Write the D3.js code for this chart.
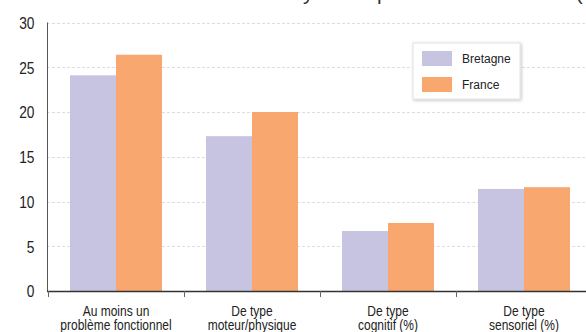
<!DOCTYPE html>
<html>
<head>
<meta charset="utf-8">
<script src="https://cdn.jsdelivr.net/npm/d3@7"></script>
<style>
  html, body { margin: 0; padding: 0; background: #fff; }
  svg { display: block; font-family: "Liberation Sans", Arial, sans-serif; }
</style>
</head>
<body>
<svg id="chart" width="586" height="332"></svg>
<script>
// Categories (each label split into its display lines)
const categories = ["Au moins un problème fonctionnel", "De type moteur/physique", "De type cognitif (%)", "De type sensoriel (%)"];
const categoryLines = [
  ["Au moins un", "problème fonctionnel"],
  ["De type", "moteur/physique"],
  ["De type", "cognitif (%)"],
  ["De type", "sensoriel (%)"]
];
const series = ["Bretagne", "France"];
const bretagne = [24.1, 17.3, 6.7, 11.4];
const france = [26.4, 20.0, 7.6, 11.6];
const yTicks = [0, 5, 10, 15, 20, 25, 30];
const colors = ["#c7c4e1", "#f8a86e"];
const title = "Personnes ayant un problème fonctionnel (%)";

const values = [bretagne, france];
const svg = d3.select("#chart");

const x0 = 48, x1 = 592, yTop = 22.5, yBottom = 291;

// Category bands, ticks sit on their boundaries
const x = d3.scaleBand().domain(categories).range([x0, x1]).padding(0);
// Series inside each band
const xs = d3.scaleBand().domain(series).range([0, x.bandwidth()]).paddingInner(0).paddingOuter(0.478);
const y = d3.scaleLinear().domain([0, 30]).range([yBottom, yTop]);

// Title (sits mostly above the visible area)
const t = svg.append("text")
  .attr("y", -0.5)
  .attr("font-size", 20.8)
  .attr("fill", "#333")
  .text(title);
const yIdx = title.indexOf("y");
const off = t.node().getSubStringLength(0, yIdx);
t.attr("x", 303 - off);

// Dashed gridlines
svg.append("g")
  .selectAll("line")
  .data(yTicks.filter(d => d > 0))
  .join("line")
  .attr("x1", 47).attr("x2", 586)
  .attr("y1", d => Math.round(y(d)) + 0.5).attr("y2", d => Math.round(y(d)) + 0.5)
  .attr("stroke", "#dedede")
  .attr("stroke-width", 1)
  .attr("stroke-dasharray", "3,2");

// Bars
const groups = svg.append("g")
  .selectAll("g")
  .data(categories)
  .join("g")
  .attr("transform", d => `translate(${x(d)},0)`);

groups.selectAll("rect")
  .data((d, i) => series.map((s, j) => ({ s, v: values[j][i], j })))
  .join("rect")
  .attr("x", d => xs(d.s))
  .attr("width", xs.bandwidth())
  .attr("y", d => y(d.v))
  .attr("height", d => y(0) - y(d.v))
  .attr("fill", d => colors[d.j]);

// Y axis
const yAxis = svg.append("g")
  .attr("transform", "translate(47.5,0)")
  .call(d3.axisLeft(y).tickValues(yTicks).tickSize(0).tickFormat(d3.format("d")));
yAxis.select(".domain").attr("stroke", "#555").attr("d", `M0,${yTop}V${yBottom}`);
yAxis.selectAll("text")
  .attr("x", 0)
  .attr("dy", "0.36em")
  .attr("font-size", 16)
  .attr("font-family", "Liberation Sans, Arial, sans-serif")
  .attr("fill", "#222")
  .attr("transform", "translate(-13,0) scale(0.86,1)");

// X axis: labels at band centres, ticks at band boundaries
const xAxis = svg.append("g")
  .attr("transform", `translate(0,${yBottom})`)
  .call(d3.axisBottom(x).tickSize(0).tickFormat(""));
xAxis.select(".domain").remove();
xAxis.append("line")
  .attr("x1", 47).attr("x2", 586)
  .attr("y1", 0.5).attr("y2", 0.5)
  .attr("stroke", "#333").attr("stroke-width", 1.5);
xAxis.selectAll(".bound")
  .data(categories)
  .join("line")
  .attr("class", "bound")
  .attr("x1", d => Math.round(x(d)) + 0.5).attr("x2", d => Math.round(x(d)) + 0.5)
  .attr("y1", 0).attr("y2", 6)
  .attr("stroke", "#666").attr("stroke-width", 1);

xAxis.selectAll(".tick").each(function (d) {
  const i = categories.indexOf(d);
  const txt = d3.select(this).append("text")
    .attr("text-anchor", "middle")
    .attr("y", 25)
    .attr("font-size", 15)
    .attr("font-family", "Liberation Sans, Arial, sans-serif")
    .attr("fill", "#222")
    .attr("transform", "scale(0.8,1)");
  txt.selectAll("tspan")
    .data(categoryLines[i])
    .join("tspan")
    .attr("x", 0)
    .attr("dy", (l, k) => k === 0 ? 0 : 14)
    .text(l => l);
});

// Legend
const defs = svg.append("defs");
const f = defs.append("filter").attr("id", "shadow").attr("x", "-20%").attr("y", "-20%").attr("width", "140%").attr("height", "140%");
f.append("feDropShadow").attr("dx", 1).attr("dy", 1).attr("stdDeviation", 1.5).attr("flood-color", "#000").attr("flood-opacity", 0.25);

const legend = svg.append("g").attr("transform", "translate(413,43)");
legend.append("rect")
  .attr("width", 107).attr("height", 56)
  .attr("fill", "#fff")
  .attr("stroke", "#e2e2e2")
  .attr("filter", "url(#shadow)");
const items = legend.selectAll(".item")
  .data(series)
  .join("g")
  .attr("class", "item")
  .attr("transform", (d, i) => `translate(9,${8 + i * 26})`);
items.append("rect")
  .attr("width", 30).attr("height", 15)
  .attr("fill", (d, i) => colors[i]);
items.append("text")
  .attr("x", 40).attr("y", 12)
  .attr("font-size", 12)
  .attr("fill", "#222")
  .text(d => d);
</script>
</body>
</html>
